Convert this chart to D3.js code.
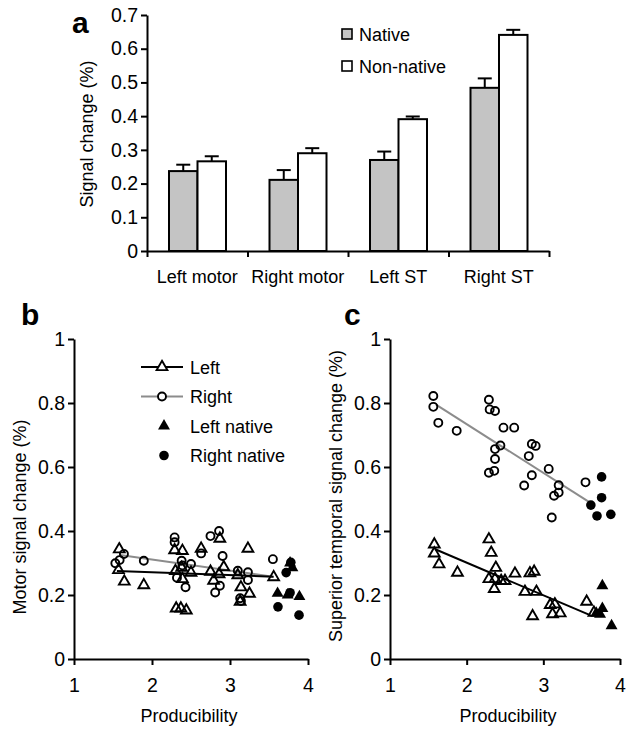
<!DOCTYPE html>
<html>
<head>
<meta charset="utf-8">
<script src="https://cdn.jsdelivr.net/npm/d3@7"></script>
<style>
body { margin: 0; background: #fff; }
svg { font-family: "Liberation Sans", Arial, Helvetica, sans-serif; }
.axis path, .axis line { stroke: #000; stroke-width: 2px; }
.axis text { font-size: 19.5px; fill: #000; font-family: "Liberation Sans", Arial, sans-serif; }
.lbl { font-size: 18px; fill: #000; }
.panel { font-size: 30px; font-weight: bold; fill: #000; }
</style>
</head>
<body>
<svg id="fig" width="627" height="735"></svg>
<script>
// ---- panel a data ----
var regions = ['Left motor', 'Right motor', 'Left ST', 'Right ST'];
var groups = ['Native', 'Non-native'];
var nativeMean = [0.237, 0.211, 0.270, 0.484];
var nativeErr = [0.019, 0.029, 0.025, 0.028];
var nonNativeMean = [0.266, 0.290, 0.391, 0.641];
var nonNativeErr = [0.015, 0.015, 0.008, 0.015];
var aTicks = [0, 0.1, 0.2, 0.3, 0.4, 0.5, 0.6, 0.7];

// ---- panel b data (motor) ----
var bLeftX = [1.58, 1.57, 1.645, 1.895, 2.29, 2.39, 2.31, 2.37, 2.44, 2.63, 2.75, 2.87, 2.86, 2.92, 3.23, 3.10, 3.14, 3.13, 3.25, 3.56, 2.30, 2.38, 2.50, 2.39, 2.79];
var bLeftY = [0.343, 0.278, 0.242, 0.231, 0.340, 0.338, 0.158, 0.158, 0.152, 0.345, 0.273, 0.376, 0.265, 0.287, 0.345, 0.262, 0.224, 0.179, 0.204, 0.256, 0.275, 0.285, 0.270, 0.250, 0.245];
var bRightX = [1.53, 1.585, 1.64, 1.895, 2.29, 2.29, 2.38, 2.39, 2.50, 2.32, 2.43, 2.75, 2.86, 2.63, 2.905, 2.81, 2.87, 3.10, 3.23, 3.23, 3.13, 3.14, 3.55];
var bRightY = [0.299, 0.309, 0.328, 0.307, 0.380, 0.365, 0.307, 0.292, 0.297, 0.254, 0.224, 0.384, 0.400, 0.330, 0.322, 0.208, 0.229, 0.276, 0.271, 0.247, 0.190, 0.181, 0.312];
var bLeftNatX = [3.61, 3.74, 3.89, 3.80, 3.77];
var bLeftNatY = [0.205, 0.200, 0.195, 0.285, 0.300];
var bRightNatX = [3.615, 3.78, 3.72, 3.77, 3.885];
var bRightNatY = [0.163, 0.302, 0.270, 0.207, 0.137];
var bLeftFitX = [1.55, 3.56], bLeftFitY = [0.275, 0.257];
var bRightFitX = [1.59, 3.55], bRightFitY = [0.325, 0.257];

// ---- panel c data (superior temporal) ----
var cLeftX = [1.578, 1.578, 1.64, 1.88, 2.29, 2.32, 2.38, 2.29, 2.37, 2.36, 2.45, 2.50, 2.63, 2.825, 2.88, 2.76, 2.91, 3.09, 3.15, 3.565, 2.86, 3.12, 3.22, 3.66];
var cLeftY = [0.358, 0.330, 0.296, 0.270, 0.374, 0.332, 0.285, 0.250, 0.250, 0.219, 0.244, 0.244, 0.267, 0.268, 0.273, 0.210, 0.210, 0.169, 0.171, 0.179, 0.134, 0.140, 0.143, 0.145];
var cRightX = [1.565, 1.565, 1.63, 1.87, 2.29, 2.30, 2.37, 2.48, 2.62, 2.37, 2.44, 2.37, 2.29, 2.36, 2.85, 2.90, 2.81, 2.85, 2.75, 3.07, 3.20, 3.20, 3.14, 3.55, 3.11];
var cRightY = [0.822, 0.788, 0.738, 0.713, 0.810, 0.780, 0.775, 0.723, 0.723, 0.656, 0.667, 0.625, 0.582, 0.588, 0.672, 0.666, 0.634, 0.574, 0.542, 0.594, 0.543, 0.520, 0.510, 0.552, 0.442];
var cLeftNatX = [3.77, 3.77, 3.69, 3.74, 3.89];
var cLeftNatY = [0.229, 0.158, 0.143, 0.140, 0.104];
var cRightNatX = [3.76, 3.76, 3.62, 3.70, 3.88];
var cRightNatY = [0.569, 0.504, 0.481, 0.447, 0.452];
var cLeftFitX = [1.59, 3.61], cLeftFitY = [0.343, 0.137];
var cRightFitX = [1.60, 3.60], cRightFitY = [0.795, 0.490];

var scatterTicksY = [0, 0.2, 0.4, 0.6, 0.8, 1];
var scatterTicksX = [1, 2, 3, 4];

var svg = d3.select('#fig');
var barGrey = '#c4c4c4';
var lineGrey = '#8c8c8c';

function zip(xs, ys) { return xs.map(function(x, i) { return {x: x, y: ys[i]}; }); }
function yFmt(d) { return (d === 0 || d === 1) ? String(d) : d.toFixed(1); }

// ================= panel a =================
(function () {
    var x0 = d3.scaleBand().domain(regions).range([147, 549]);
    var x1 = d3.scaleBand().domain(groups).range([22, 79]);
    var y = d3.scaleLinear().domain([0, 0.7]).range([251, 15]);

    var rows = regions.map(function(r, i) {
        return {region: r, values: [
            {g: 'Native', m: nativeMean[i], e: nativeErr[i]},
            {g: 'Non-native', m: nonNativeMean[i], e: nonNativeErr[i]}
        ]};
    });

    svg.append('text').attr('class', 'panel').attr('x', 72).attr('y', 33).text('a');

    var grp = svg.selectAll('.grp').data(rows).enter().append('g')
        .attr('class', 'grp')
        .attr('transform', function(d) { return 'translate(' + x0(d.region) + ',0)'; });

    // error bars (upper only)
    grp.selectAll('.err').data(function(d) { return d.values; }).enter().append('g')
        .attr('class', 'err')
        .each(function(d) {
            var cx = x1(d.g) + x1.bandwidth() / 2;
            var g = d3.select(this);
            g.append('line').attr('x1', cx).attr('x2', cx)
                .attr('y1', y(d.m)).attr('y2', y(d.m + d.e))
                .attr('stroke', '#000').attr('stroke-width', 2);
            g.append('line').attr('x1', cx - 7).attr('x2', cx + 7)
                .attr('y1', y(d.m + d.e)).attr('y2', y(d.m + d.e))
                .attr('stroke', '#000').attr('stroke-width', 2);
        });

    grp.selectAll('.bar').data(function(d) { return d.values; }).enter().append('rect')
        .attr('class', 'bar')
        .attr('x', function(d) { return x1(d.g); })
        .attr('y', function(d) { return y(d.m); })
        .attr('width', x1.bandwidth())
        .attr('height', function(d) { return y(0) - y(d.m); })
        .style('fill', function(d) { return d.g === 'Native' ? barGrey : '#fff'; })
        .style('stroke', '#000')
        .style('stroke-width', 2);

    svg.append('g').attr('class', 'axis')
        .attr('transform', 'translate(147,0)')
        .call(d3.axisLeft(y).tickValues(aTicks).tickFormat(yFmt).tickSize(6).tickPadding(3).tickSizeOuter(0));

    var xt = d3.scaleLinear().domain([0, regions.length]).range(x0.range());
    svg.append('g').attr('class', 'axis')
        .attr('transform', 'translate(0,251)')
        .call(d3.axisBottom(xt).ticks(regions.length).tickFormat('').tickSize(6).tickSizeOuter(0));

    svg.selectAll('.xlab').data(regions).enter().append('text')
        .attr('class', 'lbl xlab')
        .attr('x', function(d) { return x0(d) + x0.bandwidth() / 2; })
        .attr('y', 283)
        .attr('text-anchor', 'middle')
        .text(function(d) { return d; });

    svg.append('text').attr('class', 'lbl')
        .attr('transform', 'translate(93,134) rotate(-90)')
        .attr('text-anchor', 'middle')
        .text('Signal change (%)');

    // legend
    var leg = svg.selectAll('.alegend').data(groups).enter().append('g')
        .attr('class', 'alegend')
        .attr('transform', function(d, i) { return 'translate(342,' + (29 + i * 32) + ')'; });
    leg.append('rect').attr('width', 10).attr('height', 10)
        .style('fill', function(d) { return d === 'Native' ? barGrey : '#fff'; })
        .style('stroke', '#000').style('stroke-width', 1.6);
    leg.append('text').attr('class', 'lbl').attr('x', 17).attr('y', 11.5).text(function(d) { return d; });
})();

// ================= panels b, c =================
var triOpen = d3.symbol().type(d3.symbolTriangle).size(50);
var triFill = d3.symbol().type(d3.symbolTriangle).size(62);

function drawScatter(o) {
    var x = d3.scaleLinear().domain([1, 4]).range([o.x0, o.x1]);
    var y = d3.scaleLinear().domain([0, 1]).range([659, 339]);
    var g = svg.append('g');

    g.append('text').attr('class', 'panel').attr('x', o.letterX).attr('y', 325).text(o.letter);

    g.append('g').attr('class', 'axis')
        .attr('transform', 'translate(' + o.x0 + ',0)')
        .call(d3.axisLeft(y).tickValues(scatterTicksY).tickFormat(yFmt).tickSize(6).tickPadding(3).tickSizeOuter(0));
    g.append('g').attr('class', 'axis')
        .attr('transform', 'translate(0,659)')
        .call(d3.axisBottom(x).tickValues(scatterTicksX).tickFormat(d3.format('d')).tickSize(6).tickPadding(13).tickSizeOuter(0));

    g.append('text').attr('class', 'lbl')
        .attr('x', o.xTitleX).attr('y', 722).attr('text-anchor', 'middle')
        .text('Producibility');
    g.append('text').attr('class', 'lbl')
        .attr('transform', 'translate(' + o.yTitleX + ',' + o.yTitleY + ') rotate(-90)')
        .attr('text-anchor', 'middle')
        .text(o.yTitle);

    var line = d3.line().x(function(d) { return x(d.x); }).y(function(d) { return y(d.y); });
    g.append('path').datum(zip(o.rightFitX, o.rightFitY)).attr('d', line)
        .attr('fill', 'none').attr('stroke', lineGrey).attr('stroke-width', 2);
    g.append('path').datum(zip(o.leftFitX, o.leftFitY)).attr('d', line)
        .attr('fill', 'none').attr('stroke', '#000').attr('stroke-width', 2);

    g.selectAll('.ro').data(zip(o.rightX, o.rightY)).enter().append('circle')
        .attr('cx', function(d) { return x(d.x); }).attr('cy', function(d) { return y(d.y); })
        .attr('r', 4).attr('fill', 'none').attr('stroke', '#000').attr('stroke-width', 1.9);
    g.selectAll('.lo').data(zip(o.leftX, o.leftY)).enter().append('path')
        .attr('d', triOpen)
        .attr('transform', function(d) { return 'translate(' + x(d.x) + ',' + y(d.y) + ')'; })
        .attr('fill', 'none').attr('stroke', '#000').attr('stroke-width', 1.9);
    g.selectAll('.rn').data(zip(o.rightNatX, o.rightNatY)).enter().append('circle')
        .attr('cx', function(d) { return x(d.x); }).attr('cy', function(d) { return y(d.y); })
        .attr('r', 4.8).attr('fill', '#000');
    g.selectAll('.ln').data(zip(o.leftNatX, o.leftNatY)).enter().append('path')
        .attr('d', triFill)
        .attr('transform', function(d) { return 'translate(' + x(d.x) + ',' + y(d.y) + ')'; })
        .attr('fill', '#000');
    return g;
}

var gb = drawScatter({
    letter: 'b', letterX: 21, x0: 74, x1: 308, xTitleX: 189, yTitleX: 26, yTitleY: 517,
    yTitle: 'Motor signal change (%)',
    leftX: bLeftX, leftY: bLeftY, rightX: bRightX, rightY: bRightY,
    leftNatX: bLeftNatX, leftNatY: bLeftNatY, rightNatX: bRightNatX, rightNatY: bRightNatY,
    leftFitX: bLeftFitX, leftFitY: bLeftFitY, rightFitX: bRightFitX, rightFitY: bRightFitY
});

drawScatter({
    letter: 'c', letterX: 344, x0: 390, x1: 620, xTitleX: 508, yTitleX: 342, yTitleY: 496,
    yTitle: 'Superior temporal signal change (%)',
    leftX: cLeftX, leftY: cLeftY, rightX: cRightX, rightY: cRightY,
    leftNatX: cLeftNatX, leftNatY: cLeftNatY, rightNatX: cRightNatX, rightNatY: cRightNatY,
    leftFitX: cLeftFitX, leftFitY: cLeftFitY, rightFitX: cRightFitX, rightFitY: cRightFitY
});

// legend for panel b
var legItems = ['Left', 'Right', 'Left native', 'Right native'];
var lg = gb.selectAll('.blegend').data(legItems).enter().append('g')
    .attr('class', 'blegend')
    .attr('transform', function(d, i) { return 'translate(0,' + (367 + i * 29.5) + ')'; });
lg.filter(function(d) { return d === 'Left' || d === 'Right'; }).append('line')
    .attr('x1', 141).attr('x2', 183).attr('y1', 0).attr('y2', 0)
    .attr('stroke', function(d) { return d === 'Left' ? '#000' : lineGrey; })
    .attr('stroke-width', 2);
lg.each(function(d) {
    var s = d3.select(this);
    if (d === 'Left') s.append('path').attr('d', triOpen).attr('transform', 'translate(162,0)')
        .attr('fill', '#fff').attr('stroke', '#000').attr('stroke-width', 1.9);
    if (d === 'Right') s.append('circle').attr('cx', 162).attr('r', 4)
        .attr('fill', '#fff').attr('stroke', '#000').attr('stroke-width', 1.9);
    if (d === 'Left native') s.append('path').attr('d', triFill).attr('transform', 'translate(164,0)').attr('fill', '#000');
    if (d === 'Right native') s.append('circle').attr('cx', 164).attr('r', 4.8).attr('fill', '#000');
});
lg.append('text').attr('class', 'lbl').attr('x', 190).attr('y', 6.5).text(function(d) { return d; });
</script>
</body>
</html>
